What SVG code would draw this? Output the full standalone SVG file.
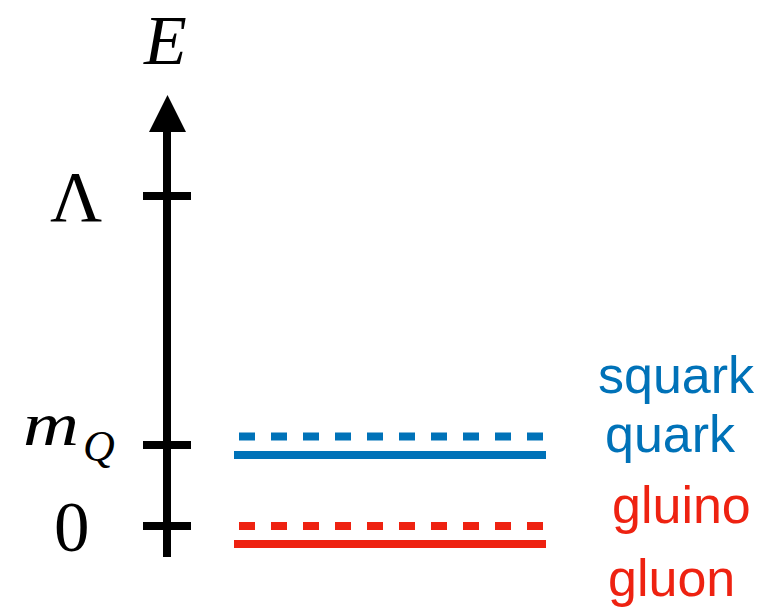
<svg xmlns="http://www.w3.org/2000/svg" width="767" height="607" viewBox="0 0 767 607">
<style>
.math{font-family:"Liberation Serif","DejaVu Serif",serif;fill:#000}
.it{font-style:italic}
.lbl{font-family:"Liberation Sans",Arial,sans-serif;font-size:52px}
.blue{fill:#0072b8}
.red{fill:#ee2211}
.axis{stroke:#000;stroke-width:8;fill:none}
.lvl{stroke-width:8;fill:none}
.dash{stroke-dasharray:16 16}
</style>
<rect width="767" height="607" fill="#fff"/>
<g id="axis">
<line class="axis" x1="167" y1="557" x2="167" y2="128"/>
<polygon points="149,132 186,132 167.5,95" fill="#000"/>
<line class="axis" x1="143" y1="196" x2="191" y2="196"/>
<line class="axis" x1="143" y1="445" x2="191" y2="445"/>
<line class="axis" x1="143" y1="526" x2="191" y2="526"/>
</g>
<g id="axis-labels">
<text class="math it" x="144" y="64" font-size="70">E</text>
<text class="math" x="50" y="221" font-size="72">Λ</text>
<text class="math it" x="23" y="445" font-size="62" textLength="56" lengthAdjust="spacingAndGlyphs">m</text>
<text class="math it" x="83" y="461" font-size="44">Q</text>
<text class="math" x="54" y="551" font-size="71">0</text>
</g>
<g id="levels">
<line id="squark-line" class="lvl dash" stroke="#0072b8" x1="239" y1="436.5" x2="546" y2="436.5"/>
<line id="quark-line" class="lvl" stroke="#0072b8" x1="234" y1="455" x2="546" y2="455"/>
<line id="gluino-line" class="lvl dash" stroke="#ee2211" x1="239" y1="526" x2="546" y2="526"/>
<line id="gluon-line" class="lvl" stroke="#ee2211" x1="234" y1="544" x2="546" y2="544"/>
</g>
<g id="level-labels">
<text class="lbl blue" x="598" y="393">squark</text>
<text class="lbl blue" x="605" y="452">quark</text>
<text class="lbl red" x="612" y="523">gluino</text>
<text class="lbl red" x="608" y="596">gluon</text>
</g>
</svg>
